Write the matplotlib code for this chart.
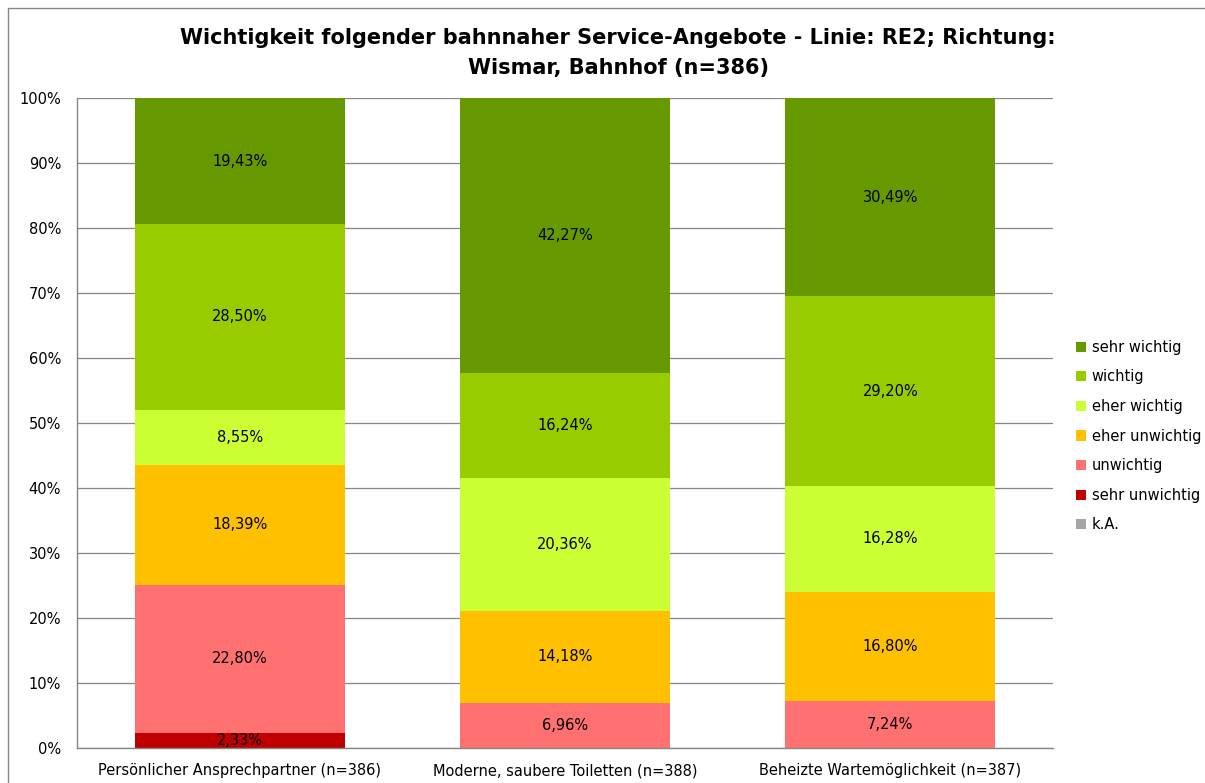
import matplotlib
matplotlib.use("Agg")
import matplotlib.pyplot as plt
from matplotlib.patches import Rectangle, Patch
import numpy as np

plt.rcParams['font.family'] = ['DejaVu Sans']

categories = ["Persönlicher Ansprechpartner (n=386)",
              "Moderne, saubere Toiletten (n=388)",
              "Beheizte Wartemöglichkeit (n=387)"]

# stacked from bottom to top
series_names = ["sehr unwichtig", "unwichtig", "eher unwichtig",
                "eher wichtig", "wichtig", "sehr wichtig", "k.A."]
sehr_unwichtig = [2.33, 0.0, 0.0]
unwichtig = [22.80, 6.96, 7.24]
eher_unwichtig = [18.39, 14.18, 16.80]
eher_wichtig = [8.55, 20.36, 16.28]
wichtig = [28.50, 16.24, 29.20]
sehr_wichtig = [19.43, 42.27, 30.49]
k_a = [0.0, 0.0, 0.0]

series_values = [sehr_unwichtig, unwichtig, eher_unwichtig,
                 eher_wichtig, wichtig, sehr_wichtig, k_a]
colors = ["#C00000", "#FF7171", "#FFC000", "#CCFF33", "#99CC00", "#669900", "#A6A6A6"]

title_lines = ["Wichtigkeit folgender bahnnaher Service-Angebote - Linie: RE2; Richtung:",
               "Wismar, Bahnhof (n=386)"]
yticks = np.arange(0, 101, 10)
ytick_labels = [f"{v}%" for v in yticks]
legend_order = ["sehr wichtig", "wichtig", "eher wichtig", "eher unwichtig",
                "unwichtig", "sehr unwichtig", "k.A."]

W, H = 1205, 783
fig = plt.figure(figsize=(W / 100, H / 100), dpi=100)
fig.patch.set_facecolor("white")

# outer chart frame
fig.patches.append(Rectangle((8 / W, -0.1), 1.2, 0.1 + 775 / H,
                             transform=fig.transFigure, fill=False,
                             edgecolor="#868686", linewidth=1.0, zorder=0))

ax = fig.add_axes([77 / W, 35 / H, 976 / W, 650 / H])
x = np.arange(len(categories))
width = 0.646
bottom = np.zeros(len(categories))
for name, vals, col in zip(series_names, series_values, colors):
    vals = np.array(vals)
    ax.bar(x, vals, width, bottom=bottom, color=col, label=name, zorder=2)
    for xi, v, b in zip(x, vals, bottom):
        if v > 0:
            ax.text(xi, b + v / 2, f"{v:.2f}%".replace(".", ","),
                    ha="center", va="center", fontsize=10.5, color="black", zorder=3)
    bottom += vals

ax.set_xlim(-0.5, 2.5)
ax.set_ylim(0, 100)
ax.set_yticks(yticks)
ax.set_yticklabels(ytick_labels, fontsize=10.5)
ax.set_xticks(x)
ax.set_xticklabels(categories, fontsize=10.5)
ax.tick_params(axis="x", length=0, pad=11)
ax.tick_params(axis="y", length=0, pad=11.5)
ax.grid(axis="y", color="#868686", linewidth=0.9, zorder=0)
ax.set_axisbelow(True)
for s in ["top", "right"]:
    ax.spines[s].set_visible(False)
for s in ["left", "bottom"]:
    ax.spines[s].set_color("#868686")
    ax.spines[s].set_linewidth(1.0)

fig.text(618 / W, 1 - 38 / H, title_lines[0], ha="center", va="center",
         fontsize=15, fontweight="bold")
fig.text(619 / W, 1 - 68 / H, title_lines[1], ha="center", va="center",
         fontsize=15, fontweight="bold")

hmap = {n: Patch(facecolor=c, label=n) for n, c in zip(series_names, colors)}
fig.legend([hmap[n] for n in legend_order], legend_order, loc="upper left",
           bbox_to_anchor=(1070 / W, 1 - 334 / H), frameon=False,
           fontsize=10.5, handlelength=0.7, handleheight=0.7,
           handletextpad=0.4, labelspacing=1.0, borderaxespad=0)

fig.savefig("out.png", dpi=100)
